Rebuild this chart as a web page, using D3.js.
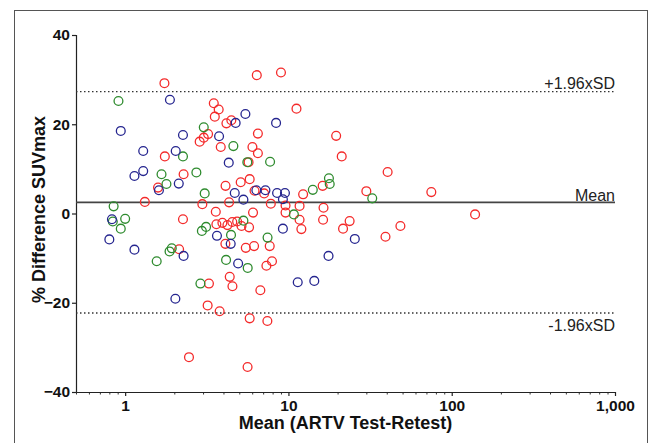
<!DOCTYPE html>
<html>
<head>
<meta charset="utf-8">
<script src="https://cdn.jsdelivr.net/npm/d3@7"></script>
<style>
  body { margin: 0; background: #fff; }
  svg { display: block; font-family: "Liberation Sans", Arial, sans-serif; }
</style>
</head>
<body>
<div id="chart"></div>
<script>
// [mean, % difference]
const redPoints = [
  [1.74, 29.2], [6.4, 31.0], [9.0, 31.6], [11.2, 23.5],
  [3.49, 24.7], [3.74, 23.3], [3.54, 21.7], [4.17, 20.2], [4.47, 20.9],
  [2.86, 16.1], [3.03, 17.0], [3.22, 17.8], [3.85, 14.9],
  [6.5, 17.9], [19.6, 17.4], [6.02, 14.9], [6.5, 13.5], [21.2, 12.8],
  [1.75, 12.8], [5.7, 11.5], [2.28, 8.8], [40.5, 9.3],
  [1.59, 5.8], [4.12, 6.2], [5.1, 7.0], [5.79, 7.7], [6.2, 5.1], [7.1, 4.5],
  [16.2, 6.2], [12.3, 4.3], [30.0, 5.0], [75, 4.8],
  [1.32, 2.6], [2.97, 2.1], [3.59, 0.4], [4.33, 2.5],
  [7.8, 2.2], [6.07, 0.2], [9.6, 1.8], [9.6, 0.2], [11.7, 1.7], [16.4, 1.3],
  [11.7, -1.4], [16.3, -1.4], [23.7, -1.7], [21.6, -3.4], [12.0, -3.5],
  [48.5, -2.8], [39.3, -5.2], [139, -0.2],
  [2.26, -1.3], [3.62, -2.4], [3.94, -2.1], [4.23, -2.6], [4.53, -1.9],
  [4.85, -1.8], [5.16, -2.8], [5.74, -3.1],
  [4.11, -6.8], [5.48, -7.7], [6.16, -7.3], [7.68, -7.3], [2.14, -8.0],
  [7.93, -10.7], [7.33, -11.7],
  [3.26, -15.7], [4.37, -14.2], [4.54, -16.3], [6.73, -17.2],
  [3.2, -20.6], [3.79, -21.9], [5.79, -23.5], [7.43, -24.1],
  [2.46, -32.2], [5.62, -34.4]
];
const bluePoints = [
  [1.88, 25.5], [0.94, 18.5], [1.29, 14.0], [1.29, 9.5], [1.14, 8.4],
  [1.61, 5.2], [2.04, 14.0], [2.13, 6.7], [2.26, 17.6], [3.76, 17.3],
  [4.75, 20.3], [5.45, 22.3], [8.4, 20.3], [4.31, 11.4], [4.69, 4.6],
  [5.3, 3.1], [6.36, 5.2], [7.23, 5.2], [8.52, 4.6], [9.52, 4.6], [9.25, 3.2],
  [0.8, -5.8], [0.83, -1.3], [1.14, -8.1], [2.28, -9.5], [2.03, -19.1],
  [3.65, -5.0], [4.43, -6.8], [4.92, -11.2], [9.25, -3.4], [11.4, -15.4],
  [14.4, -15.1], [17.6, -9.5], [25.5, -5.7]
];
const greenPoints = [
  [0.91, 25.2], [3.03, 19.3], [4.6, 15.1], [2.26, 12.8], [1.67, 8.8],
  [1.79, 6.6], [2.73, 9.2], [5.6, 11.5], [7.72, 11.6], [3.07, 4.5],
  [17.7, 7.9], [17.9, 6.6], [14.1, 5.3], [32.6, 3.4],
  [0.85, 1.6], [1.0, -1.2], [0.94, -3.4], [0.84, -1.8], [2.95, -3.9],
  [3.13, -3.0], [1.93, -7.8], [1.87, -8.5], [1.56, -10.7], [2.89, -15.7],
  [4.15, -10.4], [5.63, -12.2], [4.45, -4.8], [5.3, -1.6], [7.45, -5.4], [10.8, -0.2]
];
const meanDiff = 2.5;
const upperLimit = 27.3;
const lowerLimit = -22.3;
const xTicks = [1, 10, 100, 1000];
const yTicks = [-40, -20, 0, 20, 40];

const W = 651, H = 443;
const margin = { top: 35, right: 36, bottom: 51, left: 76 };

const svg = d3.select('#chart').append('svg')
  .attr('width', W)
  .attr('height', H);

// outer frame
svg.append('rect')
  .attr('x', 14.5).attr('y', 10.5)
  .attr('width', 633).attr('height', 460)
  .attr('fill', 'none')
  .attr('stroke', '#555')
  .attr('stroke-width', 1);

const x = d3.scaleLog()
  .domain([0.5, 1000])
  .range([margin.left, W - margin.right]);
const y = d3.scaleLinear()
  .domain([-40, 40])
  .range([H - margin.bottom, margin.top]);

// y axis
svg.append('g')
  .attr('transform', `translate(${margin.left},0)`)
  .call(d3.axisLeft(y).tickValues(yTicks).tickSize(4).tickPadding(2))
  .call((g) => g.select('.domain').attr('stroke', '#222').attr('stroke-width', 1.2))
  .call((g) => g.selectAll('.tick line').attr('stroke', '#222').attr('stroke-width', 1.2))
  .call((g) => g.selectAll('.tick text')
    .attr('fill', '#111')
    .style('font-size', '15.5px')
    .style('font-weight', 'bold'));

// x axis, minor ticks first
const minorTicks = x.ticks().filter((t) => !xTicks.includes(t));
svg.append('g')
  .attr('transform', `translate(0,${H - margin.bottom})`)
  .call(d3.axisBottom(x).tickValues(minorTicks).tickSize(2.5).tickFormat(''))
  .call((g) => g.select('.domain').remove())
  .call((g) => g.selectAll('.tick line').attr('stroke', '#333'));

svg.append('g')
  .attr('transform', `translate(0,${H - margin.bottom})`)
  .call(d3.axisBottom(x).tickValues(xTicks).tickSize(4).tickPadding(4)
    .tickFormat(d3.format(',')).tickSizeOuter(0))
  .call((g) => g.select('.domain').attr('stroke', '#222').attr('stroke-width', 1.2))
  .call((g) => g.selectAll('.tick line').attr('stroke', '#222').attr('stroke-width', 1.2))
  .call((g) => g.selectAll('.tick text')
    .attr('fill', '#111')
    .style('font-size', '15.5px')
    .style('font-weight', 'bold'));

// axis titles
svg.append('text')
  .attr('x', (margin.left + W - margin.right) / 2)
  .attr('y', 429)
  .attr('text-anchor', 'middle')
  .style('font-size', '18px')
  .style('font-weight', 'bold')
  .attr('fill', '#111')
  .text('Mean (ARTV Test-Retest)');

svg.append('text')
  .attr('transform', `translate(45,${y(0) - 4}) rotate(-90)`)
  .attr('text-anchor', 'middle')
  .style('font-size', '18px')
  .style('font-weight', 'bold')
  .attr('fill', '#111')
  .text('% Difference SUVmax');

// reference lines
const x0 = x.range()[0], x1 = x.range()[1];
svg.append('line')
  .attr('x1', x0).attr('x2', x1)
  .attr('y1', y(meanDiff)).attr('y2', y(meanDiff))
  .attr('stroke', '#444').attr('stroke-width', 1.6);

[upperLimit, lowerLimit].forEach((v) => {
  svg.append('line')
    .attr('x1', x0).attr('x2', x1)
    .attr('y1', y(v)).attr('y2', y(v))
    .attr('stroke', '#333').attr('stroke-width', 1.3)
    .attr('stroke-dasharray', '1.5,2.5');
});

const refLabels = [
  { text: '+1.96xSD', dy: y(upperLimit) - 3 },
  { text: 'Mean', dy: y(meanDiff) - 1 },
  { text: '-1.96xSD', dy: y(lowerLimit) + 18 },
];
svg.selectAll('.ref-label')
  .data(refLabels)
  .enter()
  .append('text')
  .attr('class', 'ref-label')
  .attr('x', x1)
  .attr('y', (d) => d.dy)
  .attr('text-anchor', 'end')
  .style('font-size', '16px')
  .attr('fill', '#222')
  .text((d) => d.text);

// points
const groups = [
  { data: redPoints, color: '#f42a2a' },
  { data: greenPoints, color: '#2e8b2e' },
  { data: bluePoints, color: '#25258f' },
];
groups.forEach((grp) => {
  svg.append('g')
    .selectAll('circle')
    .data(grp.data)
    .enter()
    .append('circle')
    .attr('cx', (d) => x(d[0]))
    .attr('cy', (d) => y(d[1]))
    .attr('r', 4.4)
    .attr('fill', 'none')
    .attr('stroke', grp.color)
    .attr('stroke-width', 1.3);
});
</script>
</body>
</html>
